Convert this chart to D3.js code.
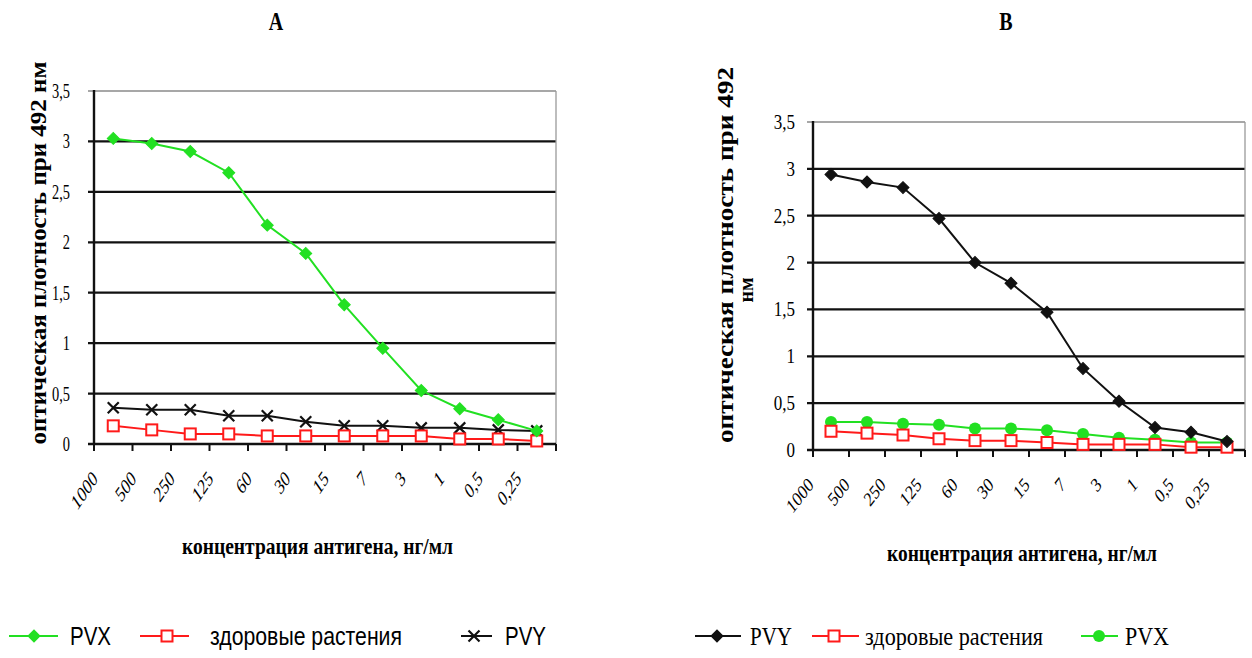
<!DOCTYPE html>
<html>
<head>
<meta charset="utf-8">
<script src="https://cdn.jsdelivr.net/npm/d3@7"></script>
<style>
  body { margin: 0; background: #fff; }
  svg { display: block; }
</style>
</head>
<body>
<div id="chart"></div>
<script>

// concentrations, ng/ml
var categories = ["1000", "500", "250", "125", "60", "30", "15", "7", "3", "1", "0,5", "0,25"];

var yTicks = [0, 0.5, 1, 1.5, 2, 2.5, 3, 3.5];
var yTickLabels = ["0", "0,5", "1", "1,5", "2", "2,5", "3", "3,5"];

// panel A: antibodies against PVX
var pvxA     = [3.03, 2.98, 2.90, 2.69, 2.17, 1.89, 1.38, 0.95, 0.53, 0.35, 0.24, 0.13];
var healthyA = [0.18, 0.14, 0.10, 0.10, 0.08, 0.08, 0.08, 0.08, 0.08, 0.05, 0.05, 0.03];
var pvyA     = [0.36, 0.34, 0.34, 0.28, 0.28, 0.22, 0.18, 0.18, 0.16, 0.16, 0.14, 0.13];

// panel B: antibodies against PVY
var pvyB     = [2.94, 2.86, 2.80, 2.47, 2.00, 1.78, 1.47, 0.87, 0.52, 0.24, 0.19, 0.09];
var healthyB = [0.20, 0.18, 0.16, 0.12, 0.10, 0.10, 0.08, 0.06, 0.06, 0.06, 0.03, 0.03];
var pvxB     = [0.30, 0.30, 0.28, 0.27, 0.23, 0.23, 0.21, 0.17, 0.13, 0.11, 0.08, 0.08];

var yTitle = "оптическая плотность при 492 нм";
var yTitleB = ["оптическая плотность при 492", "нм"];
var xTitle = "концентрация антигена, нг/мл";
var healthyName = "здоровые растения";

var green = "#22e022", red = "#ff1a1a", black = "#111";

var width = 1252, height = 658;
var serif = "'Liberation Serif', 'Times New Roman', serif";
var sans = "'Liberation Sans', Arial, sans-serif";

var svg = d3.select("#chart").append("svg")
    .attr("width", width)
    .attr("height", height);

// text helper, the source image is squeezed horizontally so most text gets sx < 1
function txt(g, s, x, y, o) {
    o = o || {};
    var t = g.append("text")
        .text(s)
        .attr("transform", "translate(" + x + "," + y + ") scale(" + (o.sx || 1) + ",1)" + (o.rot ? " rotate(" + o.rot + ")" : ""))
        .attr("font-family", o.font || serif)
        .attr("font-size", o.size || 18)
        .attr("font-weight", o.bold ? "bold" : "normal")
        .attr("text-anchor", o.anchor || "start")
        .attr("fill", "#000");
    if (o.len) t.attr("textLength", o.len).attr("lengthAdjust", "spacingAndGlyphs");
    return t;
}

function marker(g, kind, x, y, color) {
    if (kind == "diamond") {
        g.append("path")
            .attr("d", d3.symbol(d3.symbolSquare, 72)())
            .attr("transform", "translate(" + x + "," + y + ") rotate(45)")
            .attr("fill", color).attr("stroke", color).attr("stroke-width", 1);
    } else if (kind == "square") {
        g.append("rect")
            .attr("x", x - 5.5).attr("y", y - 5.5)
            .attr("width", 11).attr("height", 11)
            .attr("fill", "#fff").attr("stroke", color).attr("stroke-width", 2);
    } else if (kind == "circle") {
        g.append("circle")
            .attr("cx", x).attr("cy", y).attr("r", 6)
            .attr("fill", color);
    } else if (kind == "x") {
        g.append("path")
            .attr("d", "M-5.5,-5.5L5.5,5.5M-5.5,5.5L5.5,-5.5")
            .attr("transform", "translate(" + x + "," + y + ")")
            .attr("stroke", color).attr("stroke-width", 2.2).attr("fill", "none");
    }
}

function drawPanel(p) {
    var g = svg.append("g");

    var x = d3.scaleBand().domain(categories).range([p.left, p.right]);
    var y = d3.scaleLinear().domain([0, 3.5]).range([p.bottom, p.top]);

    // gridlines with small outward ticks on the left
    yTicks.forEach(function(t, i) {
        if (t == 0) return;
        g.append("line")
            .attr("x1", p.left - 6).attr("x2", p.right)
            .attr("y1", y(t)).attr("y2", y(t))
            .attr("stroke", t == 3.5 ? "#8a8a8a" : black)
            .attr("stroke-width", t == 3.5 ? 1.6 : 2.3);
    });
    g.append("line")
        .attr("x1", p.right).attr("x2", p.right)
        .attr("y1", p.top).attr("y2", p.bottom)
        .attr("stroke", "#9a9a9a").attr("stroke-width", 1.3);

    // axes
    g.append("line")
        .attr("x1", p.left).attr("x2", p.left)
        .attr("y1", p.top - 1).attr("y2", p.bottom)
        .attr("stroke", black).attr("stroke-width", 2.4);
    g.append("line")
        .attr("x1", p.left - 6).attr("x2", p.right)
        .attr("y1", p.bottom).attr("y2", p.bottom)
        .attr("stroke", black).attr("stroke-width", 2.6);

    var bounds = categories.map(function(c) { return x(c); }).concat([p.right]);
    bounds.forEach(function(bx) {
        g.append("line")
            .attr("x1", bx).attr("x2", bx)
            .attr("y1", p.bottom).attr("y2", p.bottom + 7)
            .attr("stroke", black).attr("stroke-width", 2);
    });

    yTicks.forEach(function(t, i) {
        txt(g, yTickLabels[i], p.yLabelX, y(t) + 7, {size: 20, sx: p.tickSx, anchor: "end"});
    });

    categories.forEach(function(c) {
        txt(g, c, x(c) + p.xLabelDx, p.bottom + p.xLabelDy,
            {size: p.xLabelSize, sx: p.xLabelSx, rot: -45, anchor: "end"});
    });

    // series
    var cx = function(d, i) { return x(categories[i]) + x.bandwidth() / 2; };
    p.series.forEach(function(s) {
        var line = d3.line().x(cx).y(function(d) { return y(d); });
        g.append("path")
            .datum(s.values)
            .attr("d", line)
            .attr("fill", "none")
            .attr("stroke", s.color)
            .attr("stroke-width", 2);
        s.values.forEach(function(v, i) {
            marker(g, s.marker, cx(v, i), y(v), s.color);
        });
    });

    txt(g, p.title, p.titleX, 30, {size: 25, bold: true, sx: 0.8, anchor: "middle"});
}

drawPanel({
    left: 94, right: 556, top: 91, bottom: 444,
    yLabelX: 70, tickSx: 0.72,
    xLabelDx: 4.5, xLabelDy: 36, xLabelSize: 22, xLabelSx: 0.68,
    title: "A", titleX: 276,
    series: [
        {values: pvyA, color: black, marker: "x"},
        {values: healthyA, color: red, marker: "square"},
        {values: pvxA, color: green, marker: "diamond"}
    ]
});

drawPanel({
    left: 813, right: 1245, top: 122, bottom: 450,
    yLabelX: 795, tickSx: 0.85,
    xLabelDx: 1.5, xLabelDy: 36, xLabelSize: 20, xLabelSx: 0.78,
    title: "B", titleX: 1006,
    series: [
        {values: pvxB, color: green, marker: "circle"},
        {values: healthyB, color: red, marker: "square"},
        {values: pvyB, color: black, marker: "diamond"}
    ]
});

// axis titles
txt(svg, yTitle, 46, 253, {size: 24, bold: true, rot: -90, anchor: "middle", len: 383});
txt(svg, xTitle, 182, 554, {size: 23, bold: true, len: 271});

txt(svg, yTitleB[0], 733, 255, {size: 24, bold: true, rot: -90, anchor: "middle", len: 376});
txt(svg, yTitleB[1], 753, 290, {size: 20, bold: true, rot: -90, anchor: "middle"});
txt(svg, xTitle, 887, 561, {size: 23, bold: true, len: 270});

// legends
var leg = svg.append("g");
var ly = 636;
function legendItem(x1, x2, mx, kind, color, label, tx, tlen, font) {
    leg.append("line")
        .attr("x1", x1).attr("x2", x2).attr("y1", ly).attr("y2", ly)
        .attr("stroke", color).attr("stroke-width", 2);
    marker(leg, kind, mx, ly, color);
    txt(leg, label, tx, ly + 9, {size: 25, font: font, len: tlen});
}

legendItem(9, 58, 34, "diamond", green, "PVX", 70, 41, sans);
legendItem(140, 189, 167, "square", red, healthyName, 210, 192, sans);
legendItem(461, 492, 474, "x", black, "PVY", 505, 41, sans);

legendItem(695, 741, 717, "diamond", black, "PVY", 750, 42, serif);
legendItem(812, 859, 834, "square", red, healthyName, 865, 178, serif);
legendItem(1081, 1118, 1099, "circle", green, "PVX", 1125, 44, serif);

</script>
</body>
</html>
